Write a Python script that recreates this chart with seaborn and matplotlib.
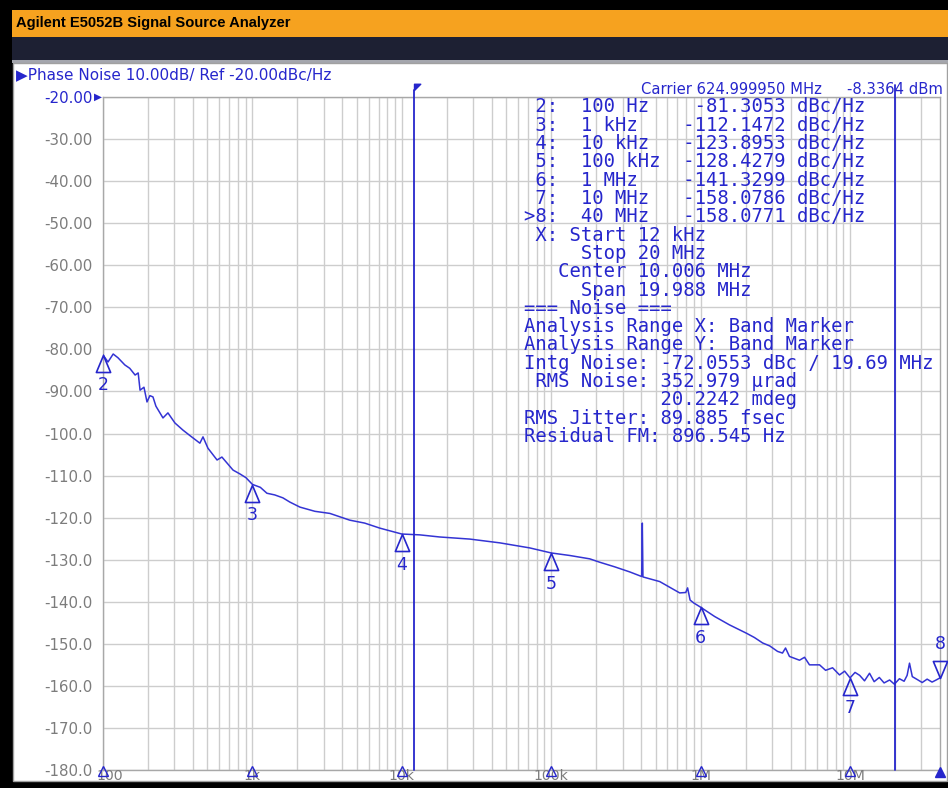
"""Recreate an Agilent E5052B phase noise screen as a seaborn/matplotlib figure."""

import matplotlib

matplotlib.use("Agg")
import matplotlib.pyplot as plt
from matplotlib.patches import Rectangle
from matplotlib.path import Path
import numpy as np
import pandas as pd
import seaborn as sns

# trace (offset frequency in Hz, level in dBc/Hz)
freq_hz = [
    100, 108, 117, 126, 140, 151, 164, 172, 177, 188, 197, 206, 216, 226,
    252, 272, 303, 343, 382, 445, 467, 504, 580, 625, 742, 824, 905, 1000,
    1130, 1250, 1410, 1600, 1780, 2080, 2620, 3300, 4480, 5640, 7130, 10000,
    13200, 17900, 28500, 45300, 71800, 100000, 133000, 181000, 211000,
    266000, 335000, 403000, 405000, 407000, 409000, 411000, 532000, 724000,
    795000, 818000, 850000, 900000, 1.0e6, 1.24e6, 1.56e6, 2.03e6, 2.29e6,
    2.60e6, 2.90e6, 3.27e6, 3.53e6, 3.70e6, 3.93e6, 4.59e6, 4.96e6, 5.35e6,
    6.25e6, 6.86e6, 7.64e6, 8.5e6, 9.2e6, 1.0e7, 1.08e7, 1.16e7, 1.25e7,
    1.35e7, 1.45e7, 1.57e7, 1.69e7, 1.84e7, 1.98e7, 2.14e7, 2.30e7, 2.41e7,
    2.50e7, 2.61e7, 2.82e7, 3.04e7, 3.28e7, 3.54e7, 3.77e7, 4.0e7,
]
level_dbc = [
    -81.3, -83.0, -81.1, -82.0, -83.7, -84.5, -86.1, -85.6, -89.7, -89.0,
    -92.5, -91.0, -91.3, -93.5, -96.3, -95.1, -97.5, -99.2, -100.5, -102.3,
    -100.8, -103.5, -106.3, -105.6, -108.7, -109.6, -110.5, -112.1, -112.8,
    -114.2, -114.6, -115.3, -116.3, -117.5, -118.5, -119.0, -120.6, -121.3,
    -122.5, -123.9, -124.1, -124.6, -125.1, -126.0, -127.2, -128.4, -129.0,
    -129.8, -130.6, -131.7, -132.9, -134.0, -127.7, -121.3, -127.5, -134.1,
    -135.2, -137.9, -137.8, -136.7, -139.6, -140.3, -141.3, -143.5, -145.5,
    -147.5, -148.5, -149.8, -150.5, -151.8, -152.2, -151.0, -153.0, -153.9,
    -153.2, -155.0, -155.0, -156.3, -155.7, -157.4, -156.5, -158.1, -156.8,
    -157.5, -158.8, -157.0, -159.0, -158.0, -159.3, -158.6, -159.6, -158.3,
    -158.9, -157.5, -154.6, -157.8, -158.5, -159.2, -158.4, -159.1, -158.6,
    -158.1,
]

marker_ids = [2, 3, 4, 5, 6, 7, 8]
marker_freq_hz = [100, 1e3, 1e4, 1e5, 1e6, 1e7, 4e7]
marker_freq_text = ["100 Hz", "1 kHz", "10 kHz", "100 kHz", "1 MHz", "10 MHz", "40 MHz"]
marker_level = [-81.3053, -112.1472, -123.8953, -128.4279, -141.3299, -158.0786, -158.0771]
active_marker = 8

band_start_hz = 12e3
band_stop_hz = 20e6

x_tick_hz = [100, 1e3, 1e4, 1e5, 1e6, 1e7]
x_tick_text = ["100", "1k", "10k", "100k", "1M", "10M"]
y_ticks = list(range(-180, -19, 10))

info_lines = [
    " X: Start 12 kHz",
    "     Stop 20 MHz",
    "   Center 10.006 MHz",
    "     Span 19.988 MHz",
    "=== Noise ===",
    "Analysis Range X: Band Marker",
    "Analysis Range Y: Band Marker",
    "Intg Noise: -72.0553 dBc / 19.69 MHz",
    " RMS Noise: 352.979 \u00b5rad",
    "            20.2242 mdeg",
    "RMS Jitter: 89.885 fsec",
    "Residual FM: 896.545 Hz",
]

BLUE = "#2626cc"
TRACE = "#3434d4"
GREY_TXT = "#7c7c7c"
GRID = "#cdcdcd"
W, H = 948, 788


def fx(px):
    return px / W


def fy(py):
    return 1 - py / H


sns.set_style("white")
plt.rcParams["font.family"] = ["DejaVu Sans"]

fig = plt.figure(figsize=(W / 100, H / 100), dpi=100, facecolor="black")

# instrument chrome (behind the axes)
fig.add_artist(Rectangle((fx(12), fy(37)), fx(948) - fx(12), 27 / H,
                         transform=fig.transFigure, color="#f6a21f", lw=0, zorder=-5))
fig.add_artist(Rectangle((fx(12), fy(60)), fx(948) - fx(12), 23 / H,
                         transform=fig.transFigure, color="#1d2033", lw=0, zorder=-5))
fig.add_artist(Rectangle((fx(12), fy(63)), fx(948) - fx(12), 3 / H,
                         transform=fig.transFigure, color="#a4a6ad", lw=0, zorder=-5))
fig.add_artist(Rectangle((fx(13), fy(781)), fx(947) - fx(13), 718 / H,
                         transform=fig.transFigure, facecolor="white",
                         edgecolor="#a0a0a0", lw=1, zorder=-4))

fig.text(fx(16), fy(23), "Agilent E5052B Signal Source Analyzer", color="black",
         fontsize=10.6, fontweight="bold", family=["Liberation Sans", "DejaVu Sans"],
         va="center", ha="left")
fig.text(fx(16), fy(75), "\u25b6Phase Noise 10.00dB/ Ref -20.00dBc/Hz", color=BLUE,
         fontsize=11.0, va="center", ha="left")
fig.text(fx(641), fy(89), "Carrier 624.999950 MHz", color=BLUE, fontsize=10.6,
         va="center", ha="left")
fig.text(fx(943), fy(89), "-8.3364 dBm", color=BLUE, fontsize=10.6,
         va="center", ha="right")

ax = fig.add_axes([fx(103), fy(770), fx(940) - fx(103), 673 / H])
ax.set_facecolor("white")

df = pd.DataFrame({"freq": freq_hz, "level": level_dbc})
sns.lineplot(data=df, x="freq", y="level", ax=ax, color=TRACE, linewidth=1.1,
             estimator=None, sort=False, zorder=3)

ax.set_xscale("log")
ax.set_xlim(100, 4e7)
ax.set_ylim(-180, -20)
ax.set_xlabel("")
ax.set_ylabel("")

ax.set_xticks(x_tick_hz)
ax.set_xticklabels([""] * len(x_tick_hz))
ax.set_xticks([m * d for d in [100, 1e3, 1e4, 1e5, 1e6, 1e7] for m in range(2, 10)
               if m * d < 4e7], minor=True)
ax.set_xticklabels([], minor=True)
ax.set_yticks(y_ticks)
ax.set_yticklabels([f"{v:.2f}" if v > -100 else f"{v:.1f}" for v in y_ticks],
                   color=GREY_TXT, fontsize=10.8)
ax.get_yticklabels()[-1].set_color(BLUE)
ax.tick_params(which="both", length=0)
ax.tick_params(axis="y", pad=7.5)
ax.grid(True, which="major", color=GRID, lw=1.0)
ax.grid(True, which="minor", axis="x", color=GRID, lw=1.0)
for s in ax.spines.values():
    s.set_color("#a8a8a8")
    s.set_linewidth(1.0)

# reference arrow next to -20.00
ax.annotate("\u25b6", xy=(0, -20), xycoords=("axes fraction", "data"),
            xytext=(-0.5, 0), textcoords="offset points", ha="right", va="center",
            color=BLUE, fontsize=7.5)

# x labels sit on the bottom edge like the instrument does
xt = ax.get_xaxis_transform()
for f, lab in zip(x_tick_hz, x_tick_text):
    if f == x_tick_hz[0]:
        ax.annotate(lab, xy=(f, -6 / 673), xycoords=xt, xytext=(-5, 0),
                    textcoords="offset points", ha="left", va="center",
                    color=GREY_TXT, fontsize=10.2, annotation_clip=False)
    else:
        ax.text(f, -6 / 673, lab, transform=xt, ha="center", va="center",
                color=GREY_TXT, fontsize=10.2, clip_on=False)
ax.plot(marker_freq_hz[:-1], [-0.0015] * (len(marker_freq_hz) - 1), transform=xt,
        ls="none", marker="^", ms=7.5, mfc="none", mec=BLUE, mew=1.0,
        clip_on=False, zorder=5)
ax.plot([marker_freq_hz[-1]], [-0.003], transform=xt, ls="none", marker="^",
        ms=7.5, mfc=BLUE, mec=BLUE, clip_on=False, zorder=5)

# band markers
ax.axvline(band_start_hz, ymin=0, ymax=1.0104, color=BLUE, lw=1.3, clip_on=False, zorder=4)
ax.axvline(band_stop_hz, ymin=0, ymax=1.018, color=BLUE, lw=1.3, clip_on=False, zorder=4)
flag = Path([(0, 1), (1, 1), (0, 0), (0, 1)],
            [Path.MOVETO, Path.LINETO, Path.LINETO, Path.CLOSEPOLY])
ax.plot([band_start_hz], [1.0104], transform=xt, marker=flag, ms=9, mfc=BLUE,
        mec=BLUE, ls="none", clip_on=False, zorder=5)

# trace markers: apex on the trace, number underneath (active one flipped)
tri_below = Path([(0, 0), (-0.42, -1), (0.42, -1), (0, 0)],
                 [Path.MOVETO, Path.LINETO, Path.LINETO, Path.CLOSEPOLY])
tri_above = Path([(0, 0), (-0.42, 1), (0.42, 1), (0, 0)],
                 [Path.MOVETO, Path.LINETO, Path.LINETO, Path.CLOSEPOLY])
for n, f, v in zip(marker_ids, marker_freq_hz, marker_level):
    up = n == active_marker
    ax.plot([f], [v], marker=tri_above if up else tri_below, ms=24.5, mfc="none",
            mec=BLUE, mew=1.2, ls="none", clip_on=False, zorder=6)
    ax.annotate(str(n), xy=(f, v), xytext=(0, 24 if up else -22),
                textcoords="offset points", ha="center", va="center",
                color=BLUE, fontsize=12.5, annotation_clip=False)

# marker table and noise readout
table = []
for n, ft, v in zip(marker_ids, marker_freq_text, marker_level):
    pre = ">" if n == active_marker else " "
    table.append(f"{pre}{n}:  {ft:<9}{v:>9.4f} dBc/Hz")
table += info_lines
for i, line in enumerate(table):
    fig.text(fx(524), fy(107 + i * 18.3), line, family="DejaVu Sans Mono",
             fontsize=13.6, color=BLUE, va="center", ha="left")

fig.savefig("out.png", dpi=100, facecolor=fig.get_facecolor())
